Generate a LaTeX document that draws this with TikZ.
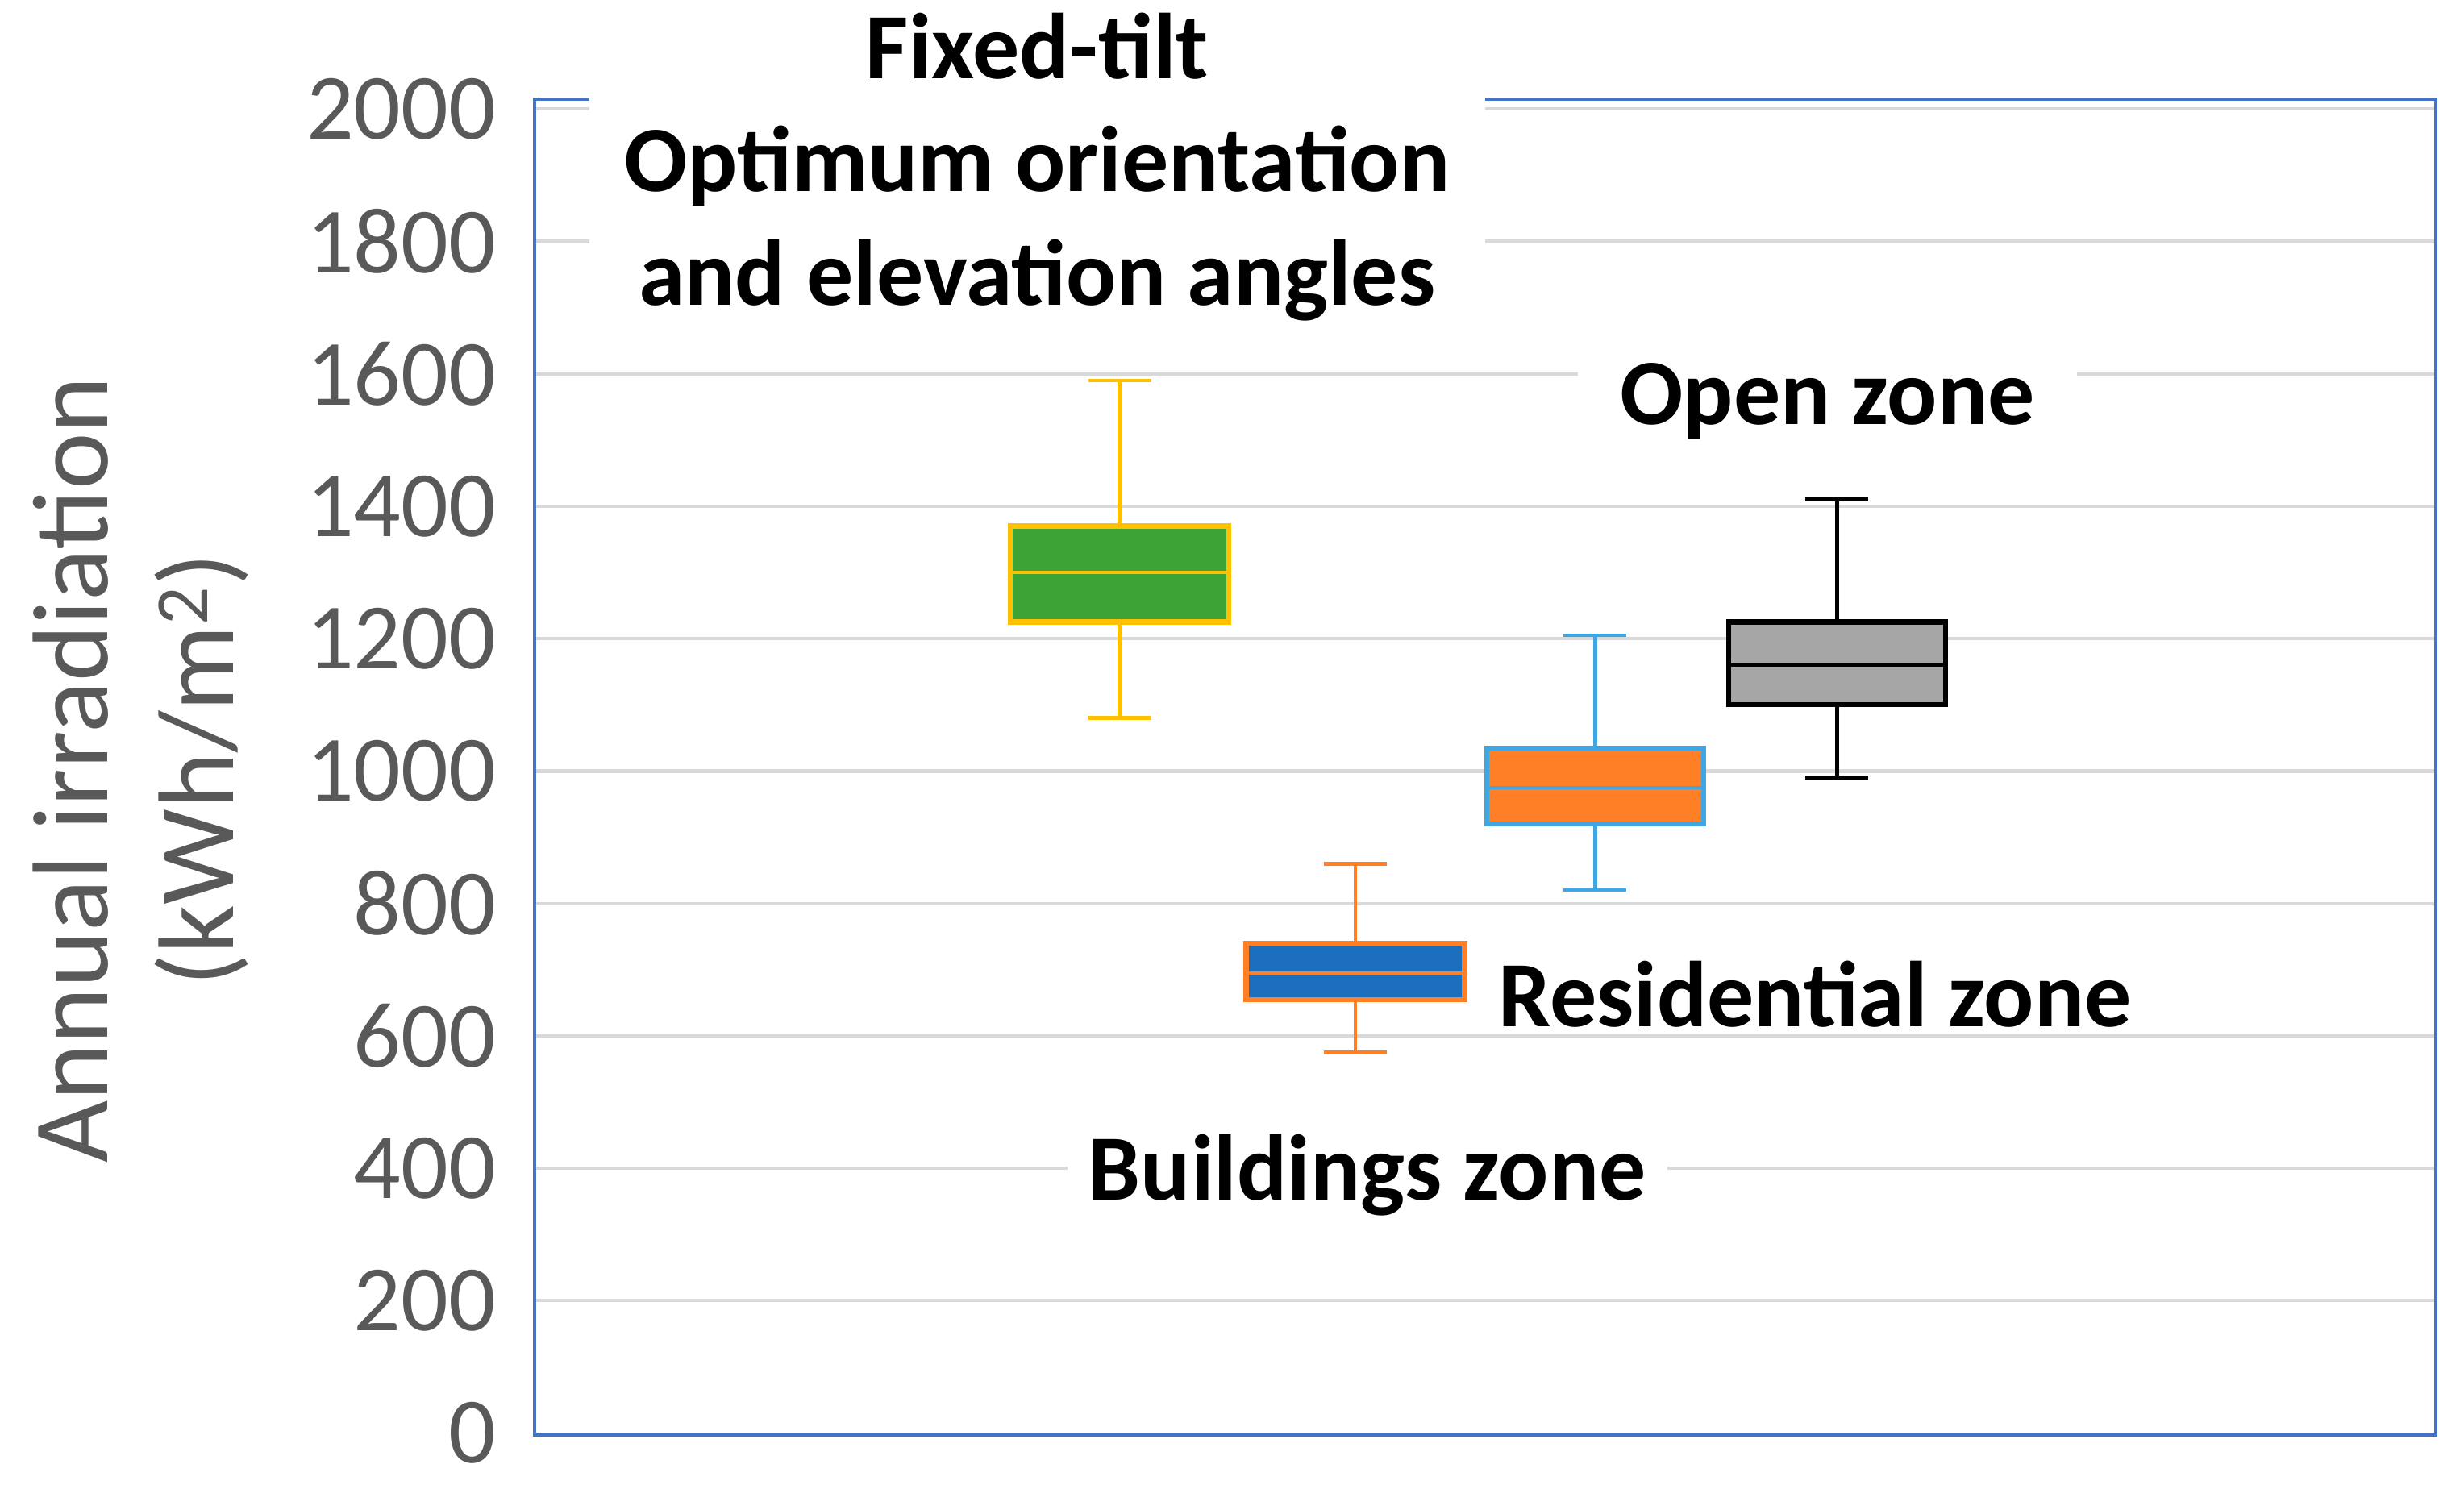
\documentclass[tikz,border=0pt]{standalone}
\usepackage{fontspec}
\setmainfont{Carlito}
\definecolor{gridc}{RGB}{217,217,217}
\definecolor{framec}{RGB}{68,114,196}
\definecolor{tickc}{RGB}{89,89,89}
\definecolor{gfill}{RGB}{60,164,52}
\definecolor{gline}{RGB}{255,192,0}
\definecolor{bfill}{RGB}{28,110,190}
\definecolor{bline}{RGB}{255,127,39}
\definecolor{ofill}{RGB}{255,127,39}
\definecolor{oline}{RGB}{65,165,225}
\definecolor{kfill}{RGB}{166,166,166}
\begin{document}
\begin{tikzpicture}[x=0.0195cm,y=-0.0195cm,
  tick/.style={anchor=east,text=tickc,font=\fontsize{33}{36}\selectfont,inner sep=0},
  lab/.style={fill=white,font=\bfseries\fontsize{33}{40}\selectfont,align=center,inner sep=0}]
\useasboundingbox (0,0) rectangle (1568,945);
\def\Y#1{912-#1*0.4213}
\foreach \v in {200,400,...,2000}{
  \draw[gridc,line width=1.2pt] (340,{\Y{\v}}) -- (1550,{\Y{\v}});}
\draw[framec,line width=1.2pt] (340,63) rectangle (1550,913);
\foreach \v in {0,200,...,2000}{
  \node[tick] (t\v) at (316,{\Y{\v}}) {\v};}
\node[rotate=90,text=tickc,font=\fontsize{38}{40}\selectfont] (at1) at (45,490) {Annual irradiation};
\node[rotate=90,text=tickc,font=\fontsize{38}{40}\selectfont] (at2) at (128,490) {(kWh/m\textsuperscript{2})};
\newcommand\bxp[9]{%
  \pgfmathsetmacro\xm{(#1+#2)/2}
  \draw[#9,line width=1.3pt] (\xm,{\Y{#3}}) -- (\xm,{\Y{#7}});
  \draw[#9,line width=1.3pt] (\xm-20,{\Y{#3}}) -- (\xm+20,{\Y{#3}});
  \draw[#9,line width=1.3pt] (\xm-20,{\Y{#7}}) -- (\xm+20,{\Y{#7}});
  \draw[#9,fill=#8,line width=1.8pt] (#1,{\Y{#4}}) rectangle (#2,{\Y{#6}});
  \draw[#9,line width=1.3pt] (#1,{\Y{#5}}) -- (#2,{\Y{#5}});}
\bxp{643}{782}{1080}{1225}{1300}{1370}{1590}{gfill}{gline}
\bxp{793}{932}{575}{655}{695}{740}{860}{bfill}{bline}
\bxp{946}{1084}{820}{920}{975}{1035}{1205}{ofill}{oline}
\bxp{1100}{1238}{990}{1100}{1160}{1225}{1410}{kfill}{black}
\fill[white] (375,0) rectangle (945,205);
\node[lab,fill=none] (l1) at (660,106) {Fixed-tilt\\Optimum orientation\\and elevation angles};
\node[lab] (l2) at (1163,248) {\rule{0pt}{0.9em}\ \ Open zone\ \ };
\node[lab] (l3) at (1155,627) {\rule{0pt}{0.9em}\ Residential zone\ };
\node[lab] (l4) at (870,742) {\rule{0pt}{0.9em}\ Buildings zone\ };
\end{tikzpicture}
\end{document}
